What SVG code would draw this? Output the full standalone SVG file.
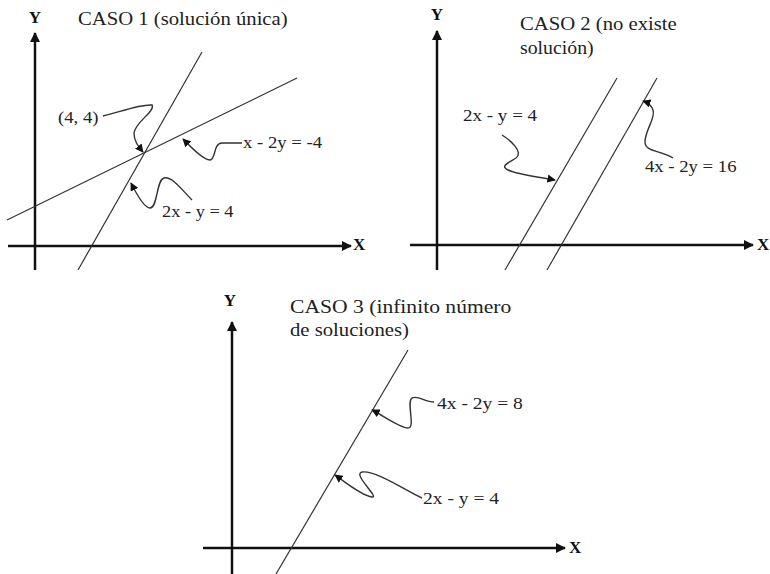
<svg xmlns="http://www.w3.org/2000/svg" width="770" height="574" viewBox="0 0 770 574">
<style>
.axis{stroke:#111;stroke-width:2.5;fill:none}
.ln{stroke:#333;stroke-width:1.2;fill:none}
.ptr{stroke:#333;stroke-width:1.4;fill:none;marker-end:url(#pa)}
.t{font-family:"Liberation Serif","Times New Roman",serif;font-size:17px;fill:#222}
.h{font-family:"Liberation Serif","Times New Roman",serif;font-size:18px;fill:#222}
.ax{font-family:"Liberation Serif","Times New Roman",serif;font-size:17px;font-weight:bold;fill:#111}
</style>
<defs>
<marker id="aa" viewBox="0 0 10 10" refX="9" refY="5" markerWidth="4" markerHeight="4" orient="auto" markerUnits="strokeWidth">
<path d="M0,0 L10,5 L0,10 z" fill="#111"/>
</marker>
<marker id="pa" viewBox="0 0 10 10" refX="9" refY="5" markerWidth="6" markerHeight="6" orient="auto" markerUnits="strokeWidth">
<path d="M0,0 L10,5 L0,10 z" fill="#111"/>
</marker>
</defs>
<rect width="770" height="574" fill="#fff"/>

<g id="caso1">
<line class="axis" x1="35" y1="270" x2="35" y2="33" marker-end="url(#aa)"/>
<line class="axis" x1="8" y1="246" x2="351" y2="246" marker-end="url(#aa)"/>
<text class="ax" x="35" y="23" text-anchor="middle">Y</text>
<text class="ax" x="353" y="250">X</text>
<text class="h" transform="translate(78,25) scale(1.15,1)">CASO 1 (solución  única)</text>
<line class="ln" x1="78" y1="270" x2="202" y2="52"/>
<line class="ln" x1="7" y1="220" x2="297" y2="78"/>
<text class="t" transform="translate(58,123) scale(1.1,1)">(4, 4)</text>
<text class="t" transform="translate(243,148) scale(1.1,1)">x - 2y = -4</text>
<text class="t" transform="translate(162,217) scale(1.08,1)">2x - y = 4</text>
</g>

<g id="caso2">
<line class="axis" x1="437" y1="270" x2="437" y2="31" marker-end="url(#aa)"/>
<line class="axis" x1="410" y1="245" x2="753" y2="245" marker-end="url(#aa)"/>
<text class="ax" x="437" y="20" text-anchor="middle">Y</text>
<text class="ax" x="757" y="250">X</text>
<text class="h" transform="translate(520,30) scale(1.15,1)">CASO 2 (no existe</text>
<text class="h" transform="translate(520,54) scale(1.1,1)">solución)</text>
<line class="ln" x1="505" y1="270" x2="617" y2="78"/>
<line class="ln" x1="547" y1="270" x2="657" y2="78"/>
<text class="t" transform="translate(463,121) scale(1.12,1)">2x - y = 4</text>
<text class="t" transform="translate(645,172) scale(1.1,1)">4x - 2y = 16</text>
</g>

<g id="caso3">
<line class="axis" x1="232" y1="574" x2="232" y2="322" marker-end="url(#aa)"/>
<line class="axis" x1="203" y1="548" x2="565" y2="548" marker-end="url(#aa)"/>
<text class="ax" x="230" y="306" text-anchor="middle">Y</text>
<text class="ax" x="569" y="553">X</text>
<text class="h" transform="translate(290,313) scale(1.2,1)">CASO 3 (infinito  número</text>
<text class="h" transform="translate(290,336) scale(1.15,1)">de soluciones)</text>
<line class="ln" x1="276" y1="574" x2="408" y2="350"/>
<text class="t" transform="translate(437,409) scale(1.15,1)">4x - 2y = 8</text>
<text class="t" transform="translate(423,504) scale(1.15,1)">2x - y = 4</text>
</g>

<g id="connectors">
<path class="ptr" d="M103,116 C120,112 140,104 152,105 C156,111 135,122 134,133 C134,142 139,147 143,152"/>
<path class="ptr" d="M242,143 L222,143 C213,143 216,160 210,160 C203,160 191,147 183,139"/>
<path class="ptr" d="M192,200 C182,190 172,176 164,178 C156,180 158,208 150,208 C144,208 136,193 131,183"/>
<path class="ptr" d="M502,135 C510,140 524,152 516,158 C508,163 500,166 508,170 C518,175 540,177 555,180"/>
<path class="ptr" d="M673,158 C660,150 645,152 645,142 C645,130 656,118 653,110 C651,104 646,102 643,101"/>
<path class="ptr" d="M434,402 C425,402 418,395 412,398 C406,402 416,428 408,428 C400,428 384,416 372,410"/>
<path class="ptr" d="M422,498 C405,490 375,470 362,472 C352,474 380,498 372,497 C362,496 345,482 335,475"/>
</g>
</svg>
